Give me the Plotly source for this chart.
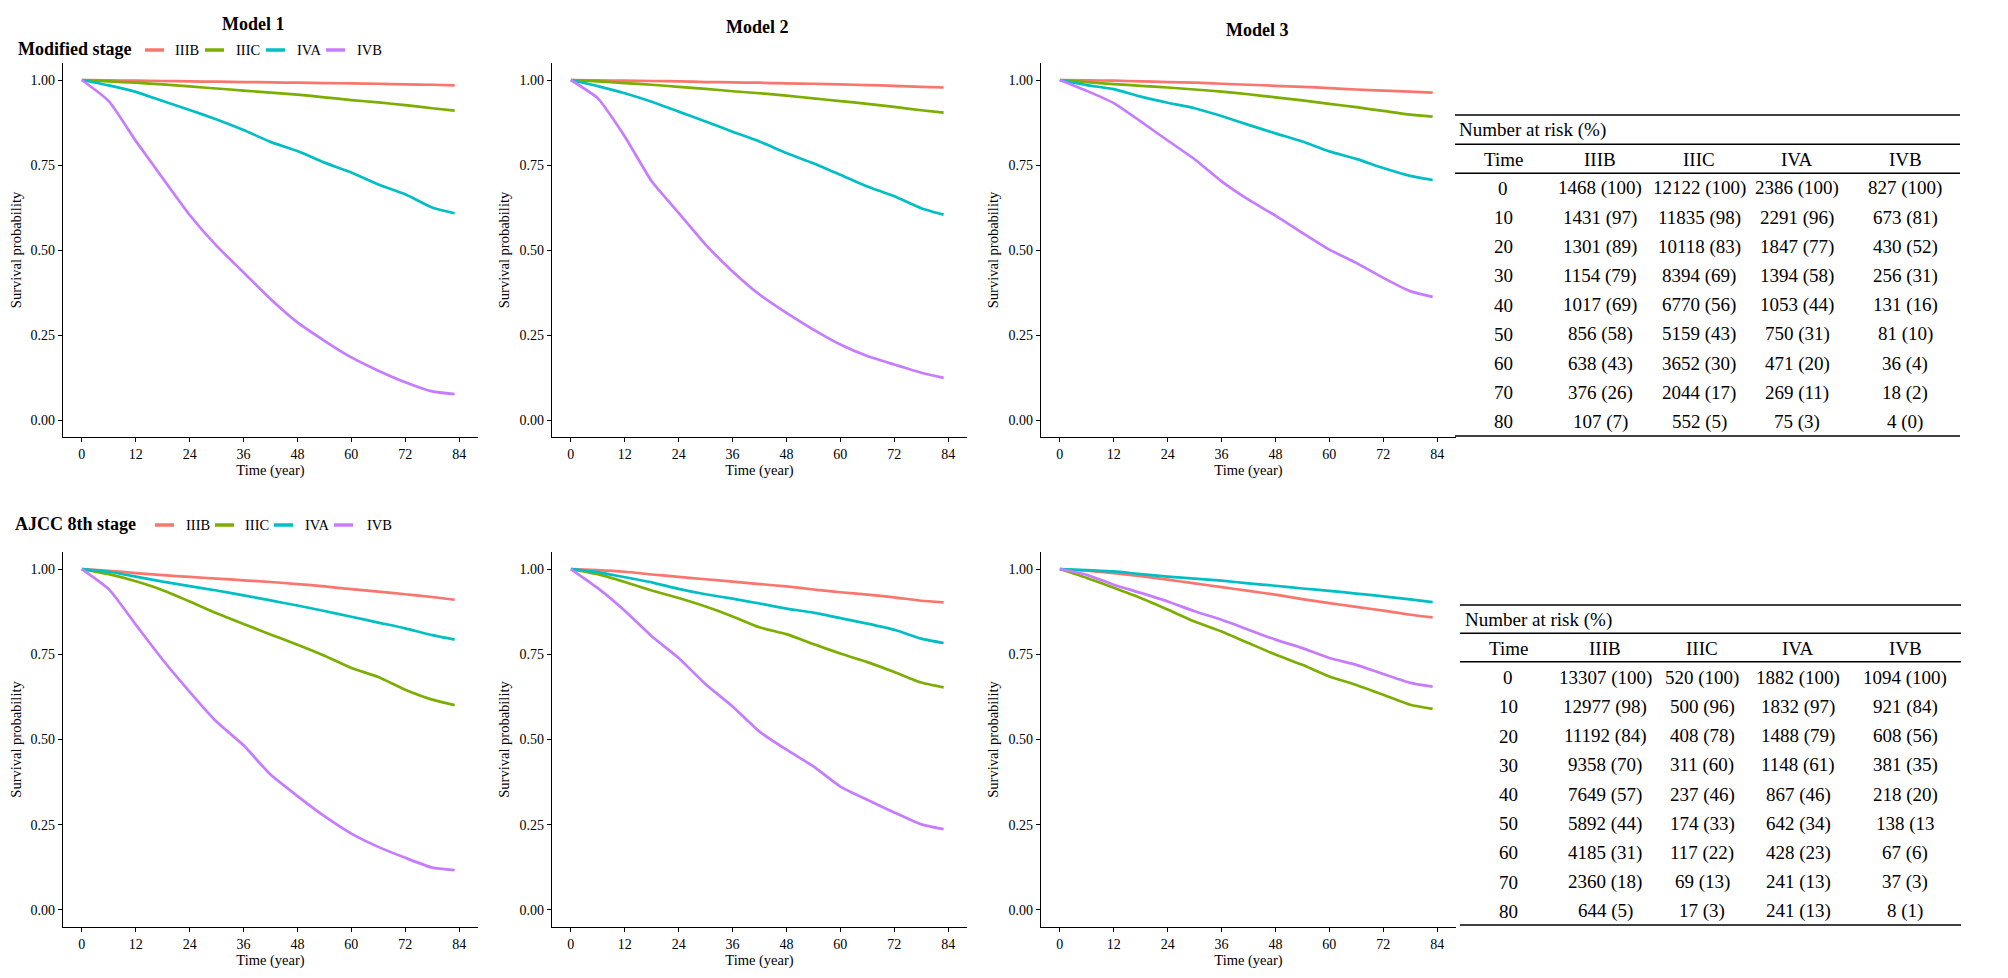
import plotly.graph_objects as go

W, H = 2008, 978
PAGE_PAD = 8  # browser body margin around the figure
FONT = "Liberation Serif"

stages = ["IIIB", "IIIC", "IVA", "IVB"]
stage_colors = ["#F8766D", "#7CAE00", "#00BFC4", "#C77CFF"]
model_titles = ["Model 1", "Model 2", "Model 3"]
row_titles = ["Modified stage", "AJCC 8th stage"]

# survival probabilities at these months
months = [0, 6, 12, 18, 24, 30, 36, 42, 48, 54, 60, 66, 72, 78, 83]
x_ticks = [0, 12, 24, 36, 48, 60, 72, 84]
y_ticks = [0, 0.25, 0.5, 0.75, 1.0]

# modified stage, order IIIB / IIIC / IVA / IVB
mod_m1 = [
    [1, .999, .998, .997, .996, .995, .994, .993, .992, .991, .990, .989, .987, .986, .984],
    [1, .996, .992, .987, .981, .975, .969, .963, .957, .949, .941, .934, .926, .917, .910],
    [1, .984, .965, .938, .912, .884, .853, .818, .791, .757, .728, .693, .664, .625, .608],
    [1, .938, .821, .711, .603, .512, .434, .356, .287, .233, .184, .145, .111, .084, .076],
]
mod_m2 = [
    [1, .999, .998, .997, .996, .994, .993, .992, .990, .989, .987, .985, .983, .980, .978],
    [1, .996, .991, .986, .980, .974, .967, .961, .954, .946, .938, .930, .921, .911, .904],
    [1, .982, .961, .936, .907, .878, .848, .819, .785, .755, .721, .687, .658, .623, .604],
    [1, .946, .834, .702, .609, .516, .437, .369, .315, .266, .222, .188, .163, .139, .124],
]
mod_m3 = [
    [1, .999, .998, .996, .994, .992, .989, .986, .983, .980, .976, .972, .969, .966, .963],
    [1, .994, .988, .983, .978, .972, .966, .958, .949, .940, .930, .920, .909, .898, .892],
    [1, .985, .973, .951, .933, .917, .894, .868, .843, .819, .790, .768, .741, .718, .706],
    [1, .968, .932, .878, .822, .767, .702, .648, .601, .550, .501, .462, .418, .379, .362],
]
# AJCC 8th stage
ajcc_m1 = [
    [1, .995, .988, .982, .977, .972, .967, .962, .956, .949, .941, .934, .926, .918, .910],
    [1, .985, .964, .938, .905, .870, .839, .808, .778, .746, .710, .683, .646, .617, .601],
    [1, .992, .978, .963, .950, .937, .923, .908, .893, .877, .860, .843, .826, .806, .793],
    [1, .941, .837, .734, .640, .552, .483, .397, .334, .275, .224, .185, .153, .124, .117],
]
ajcc_m2 = [
    [1, .997, .992, .984, .977, .970, .963, .956, .949, .940, .932, .925, .917, .907, .902],
    [1, .985, .962, .937, .915, .890, .861, .829, .809, .780, .752, .727, .698, .667, .653],
    [1, .991, .976, .961, .942, .926, .913, .899, .884, .872, .856, .840, .822, .796, .783],
    [1, .944, .878, .803, .739, .662, .597, .523, .470, .421, .362, .323, .286, .251, .237],
]
ajcc_m3 = [
    [1, .995, .988, .979, .969, .958, .947, .936, .925, .912, .900, .889, .878, .866, .858],
    [1, .974, .945, .915, .881, .846, .817, .783, .749, .719, .685, .660, .631, .602, .590],
    [1, .997, .993, .985, .978, .972, .966, .958, .951, .943, .936, .928, .920, .911, .903],
    [1, .983, .954, .930, .905, .876, .851, .822, .793, .768, .739, .719, .692, .666, .655],
]

# number at risk tables
risk_times = [0, 10, 20, 30, 40, 50, 60, 70, 80]
mod_risk_iiib = ["1468 (100)", "1431 (97)", "1301 (89)", "1154 (79)", "1017 (69)", "856 (58)", "638 (43)", "376 (26)", "107 (7)"]
mod_risk_iiic = ["12122 (100)", "11835 (98)", "10118 (83)", "8394 (69)", "6770 (56)", "5159 (43)", "3652 (30)", "2044 (17)", "552 (5)"]
mod_risk_iva = ["2386 (100)", "2291 (96)", "1847 (77)", "1394 (58)", "1053 (44)", "750 (31)", "471 (20)", "269 (11)", "75 (3)"]
mod_risk_ivb = ["827 (100)", "673 (81)", "430 (52)", "256 (31)", "131 (16)", "81 (10)", "36 (4)", "18 (2)", "4 (0)"]
ajcc_risk_iiib = ["13307 (100)", "12977 (98)", "11192 (84)", "9358 (70)", "7649 (57)", "5892 (44)", "4185 (31)", "2360 (18)", "644 (5)"]
ajcc_risk_iiic = ["520 (100)", "500 (96)", "408 (78)", "311 (60)", "237 (46)", "174 (33)", "117 (22)", "69 (13)", "17 (3)"]
ajcc_risk_iva = ["1882 (100)", "1832 (97)", "1488 (79)", "1148 (61)", "867 (46)", "642 (34)", "428 (23)", "241 (13)", "241 (13)"]
ajcc_risk_ivb = ["1094 (100)", "921 (84)", "608 (56)", "381 (35)", "218 (20)", "138 (13", "67 (6)", "37 (3)", "8 (1)"]

FW, FH = W - PAGE_PAD, H - PAGE_PAD


# page pixel -> paper fraction
def px(x):
    return (x - PAGE_PAD) / FW


def py(y):
    return 1 - (y - PAGE_PAD) / FH


fig = go.Figure()

panels = [[mod_m1, mod_m2, mod_m3], [ajcc_m1, ajcc_m2, ajcc_m3]]
col_left = [63, 552, 1041]
plot_w = 415
row_top_bottom = [(63, 437), (552, 927)]

annotations = []
shapes = []

for r in range(2):
    for c in range(3):
        idx = r * 3 + c + 1
        for i, stage in enumerate(stages):
            fig.add_trace(go.Scatter(
                x=months, y=panels[r][c][i], mode="lines", name=stage,
                line=dict(color=stage_colors[i], width=2.7, shape="spline", smoothing=0.5),
                xaxis=f"x{idx}", yaxis=f"y{idx}", showlegend=False,
            ))
        top, bottom = row_top_bottom[r]
        common = dict(showline=True, linecolor="black", linewidth=1.2,
                      ticks="outside", ticklen=4, tickwidth=1.2, tickcolor="black",
                      showgrid=False, zeroline=False,
                      tickfont=dict(size=14, color="black"))
        fig.layout[f"xaxis{idx}"] = dict(
            common, domain=[px(col_left[c]), px(col_left[c] + plot_w)],
            anchor=f"y{idx}", range=[-4.2, 88.2], tickvals=x_ticks,
            title=dict(text="Time (year)", font=dict(size=14.5), standoff=3))
        fig.layout[f"yaxis{idx}"] = dict(
            common, domain=[py(bottom), py(top)], anchor=f"x{idx}",
            range=[-0.05, 1.05], tickvals=y_ticks, tickformat=".2f",
            title=dict(text="Survival probability", font=dict(size=14.5), standoff=6))

# model titles
for title, tx, ty in zip(model_titles, [253, 757, 1257], [24, 27, 30]):
    annotations.append(dict(text=f"<b>{title}</b>", x=px(tx), y=py(ty), xref="paper", yref="paper",
                            showarrow=False, font=dict(size=18), xanchor="center", yanchor="middle"))

# legends drawn by hand (short ggplot-style keys)
legend_rows = [
    dict(title_x=16, y=49, keys=[145, 205, 266, 326], labels=[173, 234, 295, 355]),
    dict(title_x=13, y=524, keys=[155, 215, 274, 334], labels=[184, 243, 303, 365]),
]
for r, lg in enumerate(legend_rows):
    annotations.append(dict(text=f"<b>{row_titles[r]}</b>", x=px(lg["title_x"]), y=py(lg["y"]),
                            xref="paper", yref="paper", showarrow=False, font=dict(size=18),
                            xanchor="left", yanchor="middle"))
    for i, stage in enumerate(stages):
        shapes.append(dict(type="line", xref="paper", yref="paper",
                           x0=px(lg["keys"][i]), x1=px(lg["keys"][i] + 19),
                           y0=py(lg["y"] + 1), y1=py(lg["y"] + 1),
                           line=dict(color=stage_colors[i], width=3.5)))
        annotations.append(dict(text=stage, x=px(lg["labels"][i]), y=py(lg["y"] + 1),
                                xref="paper", yref="paper", showarrow=False,
                                font=dict(size=14.5), xanchor="left", yanchor="middle"))

# number-at-risk tables
tables = [
    dict(cols=[mod_risk_iiib, mod_risk_iiic, mod_risk_iva, mod_risk_ivb],
         x0=1455, x1=1960, rules=[115, 144.3, 173.3, 436], cap_x=1457, cap_y=130,
         head_y=159, row0=188.3, step=29.2, col_x=[1503, 1600, 1699, 1797, 1905]),
    dict(cols=[ajcc_risk_iiib, ajcc_risk_iiic, ajcc_risk_iva, ajcc_risk_ivb],
         x0=1460, x1=1961, rules=[605, 633.3, 661.7, 925], cap_x=1463, cap_y=620,
         head_y=648, row0=677.7, step=29.2, col_x=[1508, 1605, 1702, 1798, 1905]),
]
for tb in tables:
    for ry in tb["rules"]:
        shapes.append(dict(type="line", xref="paper", yref="paper", x0=px(tb["x0"]), x1=px(tb["x1"]),
                           y0=py(ry), y1=py(ry), line=dict(color="black", width=1.4)))
    annotations.append(dict(text="Number at risk (%)", x=px(tb["cap_x"]), y=py(tb["cap_y"]),
                            xref="paper", yref="paper", showarrow=False, font=dict(size=19),
                            xanchor="left", yanchor="middle"))
    for j, head in enumerate(["Time"] + stages):
        annotations.append(dict(text=head, x=px(tb["col_x"][j]), y=py(tb["head_y"]),
                                xref="paper", yref="paper", showarrow=False, font=dict(size=19),
                                xanchor="center", yanchor="middle"))
    for k, t in enumerate(risk_times):
        row = [str(t)] + [col[k] for col in tb["cols"]]
        for j, cell in enumerate(row):
            annotations.append(dict(text=cell, x=px(tb["col_x"][j]), y=py(tb["row0"] + k * tb["step"]),
                                    xref="paper", yref="paper", showarrow=False, font=dict(size=19),
                                    xanchor="center", yanchor="middle"))

fig.update_layout(
    width=FW, height=FH,
    margin=dict(l=0, r=0, t=0, b=0),
    paper_bgcolor="white", plot_bgcolor="white",
    font=dict(family=FONT, color="black"),
    annotations=annotations, shapes=shapes,
    showlegend=False,
)

fig.write_html("out.html")
